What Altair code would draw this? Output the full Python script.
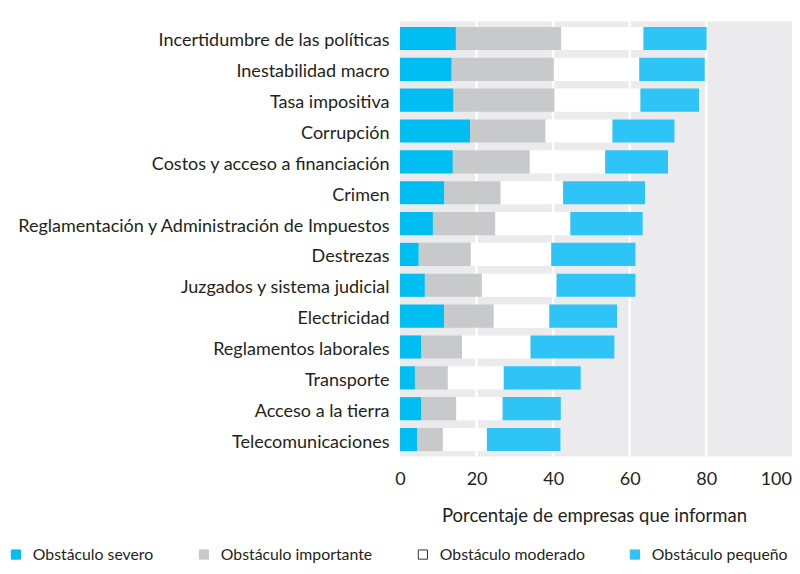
import altair as alt
import pandas as pd

categories = [
    "Incertidumbre de las políticas",
    "Inestabilidad macro",
    "Tasa impositiva",
    "Corrupción",
    "Costos y acceso a financiación",
    "Crimen",
    "Reglamentación y Administración de Impuestos",
    "Destrezas\u00a0",
    "Juzgados y sistema judicial\u00a0",
    "Electricidad",
    "Reglamentos laborales",
    "Transporte\u00a0",
    "Acceso a la tierra",
    "Telecomunicaciones",
]
severo = [14.6, 13.5, 14.0, 18.3, 13.8, 11.6, 8.6, 4.9, 6.5, 11.5, 5.6, 3.9, 5.6, 4.5]
importante = [27.5, 26.7, 26.4, 19.7, 20.1, 14.7, 16.3, 13.6, 14.9, 13.0, 10.6, 8.6, 9.1, 6.7]
moderado = [21.5, 22.3, 22.4, 17.5, 19.7, 16.3, 19.6, 21.0, 19.5, 14.5, 17.9, 14.6, 12.1, 11.5]
pequeno = [16.5, 17.1, 15.3, 16.2, 16.4, 21.4, 18.9, 22.0, 20.6, 17.7, 21.9, 20.1, 15.2, 19.2]
series = ["Obstáculo severo", "Obstáculo importante", "Obstáculo moderado", "Obstáculo pequeño"]
colors = ["#00BEF2", "#C8C9CB", "#FFFFFF", "#2EC4F5"]
strokes = ["#00BEF2", "#C8C9CB", "#333333", "#2EC4F5"]
ticks = [0, 20, 40, 60, 80, 100]
grid_values = [20, 40, 60, 80]

rows = []
for i, c in enumerate(categories):
    for j, (s, vals) in enumerate(zip(series, [severo, importante, moderado, pequeno])):
        rows.append({"cat": c, "serie": s, "ord": j, "val": vals[i]})
df = pd.DataFrame(rows)
grid_df = pd.DataFrame({"g": grid_values})

FONT = "Lato"
TXT = "#231F20"

xscale = alt.Scale(domain=[0, 102.4], nice=False, zero=True)

legend_kw = dict(title=None, orient="none", legendX=-392, legendY=525,
                 direction="horizontal", columns=4, columnPadding=42,
                 symbolType="square", symbolSize=85, symbolStrokeWidth=1,
                 labelFontSize=15.8, labelFont=FONT, labelColor=TXT,
                 labelOffset=9)

bars = alt.Chart(df).mark_bar(strokeWidth=0).encode(
    y=alt.Y("cat:N", sort=categories, title=None,
            scale=alt.Scale(paddingInner=0.25, paddingOuter=0.175),
            axis=alt.Axis(labelFontSize=18, labelFont=FONT, labelColor=TXT,
                          labelPadding=11, labelOffset=3, ticks=False, domain=False,
                          labelLimit=500)),
    x=alt.X("val:Q", stack="zero", scale=xscale,
            title="Porcentaje de empresas que informan",
            axis=alt.Axis(values=ticks, grid=False, ticks=False, domain=False,
                          labelFlush=False,
                          labelFontSize=18, labelFont=FONT, labelColor=TXT,
                          labelPadding=14,
                          labelOffset={"condition": {"test": "datum.value === 100", "value": -7},
                                       "value": 0},
                          titleFontSize=18.5, titleFont=FONT,
                          titleColor=TXT, titleFontWeight="normal", titlePadding=18,
                          titleX=194)),
    fill=alt.Fill("serie:N", sort=series,
                  scale=alt.Scale(domain=series, range=colors),
                  legend=alt.Legend(**legend_kw)),
    stroke=alt.Stroke("serie:N", sort=series,
                      scale=alt.Scale(domain=series, range=strokes),
                      legend=alt.Legend(**legend_kw)),
    order=alt.Order("ord:Q"),
)

grid = alt.Chart(grid_df).mark_rule(color="white", strokeWidth=2.5).encode(
    x=alt.X("g:Q", scale=xscale),
)

chart = alt.layer(grid, bars).properties(
    width=392, height=435,
    autosize=alt.AutoSizeParams(type="none"),
    padding={"left": 392, "top": 13.5, "right": 0, "bottom": 109.5},
    background="white",
).configure_view(fill="#EBEBEE", stroke=None)

chart.save("out.html", embed_options={"renderer": "svg", "actions": False})
